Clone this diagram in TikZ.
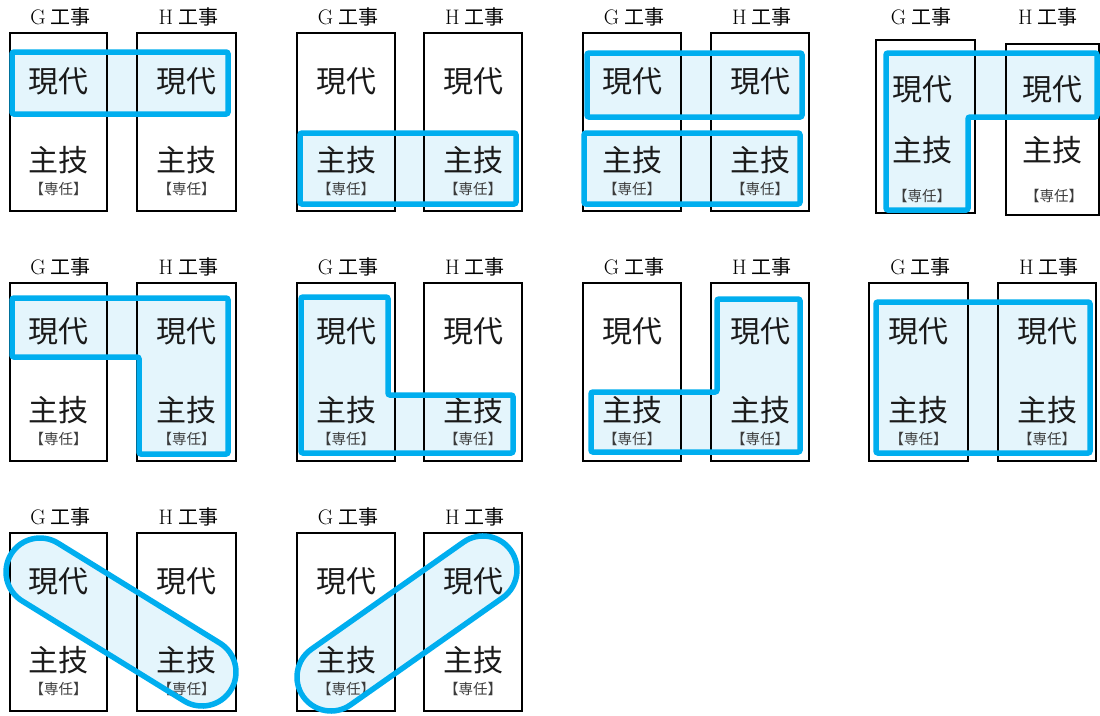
\documentclass[tikz,border=0pt]{standalone}
\usepackage{fontspec}
\newfontfamily\cjk{Noto Sans CJK JP}
\pgfdeclarelayer{bg}
\pgfsetlayers{bg,main}
\definecolor{hlblue}{HTML}{00AEEF}
\definecolor{hllight}{HTML}{E4F5FC}
\definecolor{txtdark}{HTML}{1A1A1A}
\tikzset{
  boxline/.style={draw=black, line width=1.6pt},
  hlline/.style={draw=hlblue, line width=5.5pt, rounded corners=2pt},
  hlfill/.style={fill=hllight, rounded corners=2pt},
  ttl/.style={inner sep=0pt, font=\fontsize{21}{21}\selectfont},
  big/.style={inner sep=0pt, text=txtdark, font=\cjk\fontsize{30}{30}\selectfont},
  small/.style={inner sep=0pt, text=txtdark!85, font=\cjk\fontsize{14.5}{15}\selectfont},
}
\newcommand\hl[1]{\begin{pgfonlayer}{bg}\fill[hlfill] #1;\end{pgfonlayer}\draw[hlline] #1;}
\newcommand\ttltext[1]{#1\hspace{5pt}{\cjk\fontsize{20}{20}\selectfont 工事}}
% #1 prefix, #2 G left, #3 G right, #4 H left, #5 H right, #6 top
\newcommand\mypanel[6]{%
  \draw[boxline] (#2,#6) rectangle (#3,{#6+178});
  \draw[boxline] (#4,#6) rectangle (#5,{#6+178});
  \node[ttl] (#1Gt) at ({(#2+#3)/2+2},{#6-16}) {\ttltext{G}};
  \node[ttl] (#1Ht) at ({(#4+#5)/2+2},{#6-16}) {\ttltext{H}};
  \node[big] (#1Gg) at ({(#2+#3)/2},{#6+48}) {現代};
  \node[big] (#1Hg) at ({(#4+#5)/2},{#6+48}) {現代};
  \node[big] (#1Gs) at ({(#2+#3)/2},{#6+127}) {主技};
  \node[big] (#1Hs) at ({(#4+#5)/2},{#6+127}) {主技};
  \node[small] (#1Ge) at ({(#2+#3)/2},{#6+156}) {【専任】};
  \node[small] (#1He) at ({(#4+#5)/2},{#6+156}) {【専任】};
}
\begin{document}
\begin{tikzpicture}[x=1pt,y=-1pt]
\useasboundingbox (0,0) rectangle (1100,715);
\begin{pgfonlayer}{bg}
\fill[white] (0,0) rectangle (1100,715);
\end{pgfonlayer}

% ---------- highlights (fill on background layer, outline on top) ----------
% row 1
\hl{(12,52) rectangle (228,114)}
\hl{(300,133) rectangle (516,204)}
\hl{(587,53) rectangle (802,117)}
\hl{(584,133) rectangle (800,204)}
\hl{(886,53) -- (1097,53) -- (1097,117) -- (968,117) -- (968,210) -- (886,210) -- cycle}
% row 2
\hl{(12,298) -- (228,298) -- (228,454) -- (139,454) -- (139,357) -- (12,357) -- cycle}
\hl{(301,297) -- (388,297) -- (388,395) -- (513,395) -- (513,453) -- (301,453) -- cycle}
\hl{(591,392) -- (717,392) -- (717,299) -- (800,299) -- (800,452) -- (591,452) -- cycle}
\hl{(876,302) rectangle (1090,453)}
% row 3 (stadiums)
\hl{[sharp corners, shift={(40,572)}, rotate=-31.69] (0,-34) -- (190.4,-34) arc[start angle=-90, end angle=90, radius=34] -- (0,34) arc[start angle=90, end angle=270, radius=34] -- cycle}
\hl{[sharp corners, shift={(331,677)}, rotate=35.15] (0,-34) -- (185.9,-34) arc[start angle=-90, end angle=90, radius=34] -- (0,34) arc[start angle=90, end angle=270, radius=34] -- cycle}

% ---------- boxes and texts (on the background layer, above the fills) ----------
\begin{pgfonlayer}{bg}
\mypanel{a}{10}{107}{137}{236}{33}
\mypanel{b}{297}{395}{424}{522}{33}
\mypanel{c}{583}{681}{711}{809}{33}
\mypanel{e}{10}{107}{137}{236}{283}
\mypanel{f}{297}{395}{424}{522}{283}
\mypanel{g}{583}{681}{711}{809}{283}
\mypanel{h}{869}{968}{998}{1096}{283}
\mypanel{i}{10}{107}{137}{236}{533}
\mypanel{j}{297}{395}{424}{522}{533}
% panel 4, row 1 (irregular)
\draw[boxline] (876,40) rectangle (975,213);
\draw[boxline] (1006,44) rectangle (1099,215);
\node[ttl] (dGt) at (921,17) {\ttltext{G}};
\node[ttl] (dHt) at (1048,17) {\ttltext{H}};
\node[big] (dGg) at (922,89) {現代};
\node[big] (dHg) at (1052,89) {現代};
\node[big] (dGs) at (922,150) {主技};
\node[big] (dHs) at (1052,150) {主技};
\node[small] (dGe) at (922,196) {【専任】};
\node[small] (dHe) at (1054,196) {【専任】};
\end{pgfonlayer}
\end{tikzpicture}
\end{document}
